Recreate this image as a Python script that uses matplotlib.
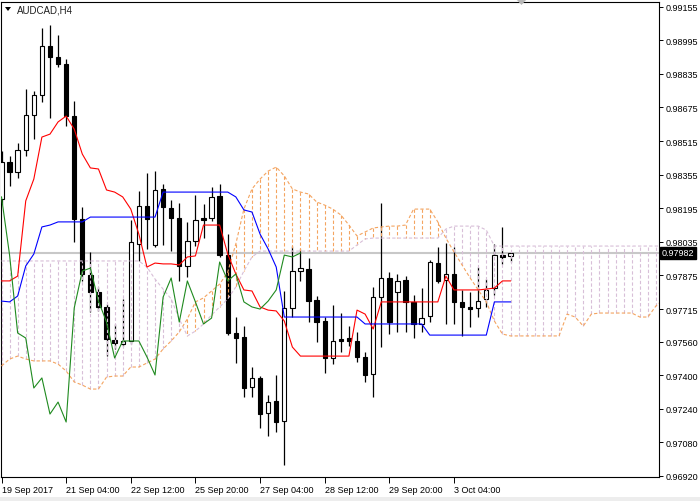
import matplotlib
matplotlib.use('Agg')
import matplotlib.pyplot as plt
from matplotlib.patches import Polygon, Rectangle
from matplotlib.transforms import blended_transform_factory

plt.rcParams['font.family'] = ['Liberation Sans', 'DejaVu Sans']

symbol_title = "AUDCAD,H4"
time_labels = ["19 Sep 2017", "21 Sep 04:00", "22 Sep 12:00", "25 Sep 20:00",
               "27 Sep 04:00", "28 Sep 12:00", "29 Sep 20:00", "3 Oct 04:00"]
time_label_bars = [0, 8, 16, 24, 32, 40, 48, 56]
price_ticks = [0.99155, 0.98995, 0.98835, 0.98675, 0.98515, 0.98355, 0.98195, 0.98035,
               0.97875, 0.97715, 0.97560, 0.97400, 0.97240, 0.97080, 0.96920]
current_price = 0.97982

open_ = [0.98239, 0.98415, 0.98368, 0.98472, 0.98639, 0.98734, 0.98968, 0.98915, 0.98882, 0.98634,
         0.98144, 0.97877, 0.97796, 0.97725, 0.97568, 0.97549, 0.97563, 0.98025, 0.98206, 0.98020,
         0.98287, 0.98196, 0.98149, 0.97920, 0.98039, 0.98149, 0.98149, 0.98253, 0.97972, 0.97601,
         0.97582, 0.97344, 0.97387, 0.97220, 0.97277, 0.97182, 0.97720, 0.97896, 0.97906, 0.97758,
         0.97658, 0.97482, 0.97572, 0.97577, 0.97563, 0.97487, 0.97406, 0.97772, 0.97863, 0.97796,
         0.97853, 0.97749, 0.97644, 0.97682, 0.97934, 0.97853, 0.97882, 0.97749, 0.97725, 0.97720,
         0.97763, 0.97815, 0.97972, 0.97968]
high = [0.98468, 0.98444, 0.98506, 0.98763, 0.98753, 0.99053, 0.99068, 0.99020, 0.98906, 0.98706,
        0.98201, 0.97987, 0.97820, 0.97739, 0.97644, 0.97763, 0.98139, 0.98277, 0.98363, 0.98372,
        0.98310, 0.98234, 0.98220, 0.98130, 0.98258, 0.98215, 0.98296, 0.98310, 0.98072, 0.97677,
        0.97634, 0.97439, 0.97396, 0.97306, 0.97401, 0.97801, 0.98015, 0.98001, 0.97958, 0.97777,
        0.97677, 0.97734, 0.97696, 0.97634, 0.97606, 0.97510, 0.97820, 0.98220, 0.97891, 0.97882,
        0.97872, 0.97782, 0.97815, 0.97949, 0.98010, 0.98030, 0.98010, 0.97806, 0.97796, 0.97915,
        0.97858, 0.98025, 0.98106, 0.97982]
low = [0.98215, 0.98301, 0.98339, 0.98444, 0.98525, 0.98701, 0.98625, 0.98868, 0.98587, 0.98034,
       0.97849, 0.97701, 0.97706, 0.97491, 0.97525, 0.97539, 0.97549, 0.97944, 0.98001, 0.98010,
       0.98020, 0.97991, 0.97849, 0.97868, 0.98015, 0.98053, 0.98134, 0.97963, 0.97591, 0.97458,
       0.97296, 0.97296, 0.97149, 0.97110, 0.97130, 0.96972, 0.97677, 0.97849, 0.97653, 0.97558,
       0.97410, 0.97453, 0.97510, 0.97539, 0.97463, 0.97368, 0.97296, 0.97534, 0.97596, 0.97606,
       0.97606, 0.97577, 0.97606, 0.97653, 0.97839, 0.97644, 0.97644, 0.97587, 0.97630, 0.97677,
       0.97725, 0.97782, 0.97930, 0.97939]
close = [0.98415, 0.98368, 0.98472, 0.98639, 0.98734, 0.98968, 0.98915, 0.98882, 0.98634, 0.98144,
         0.97882, 0.97796, 0.97725, 0.97572, 0.97553, 0.97563, 0.98034, 0.98206, 0.98144, 0.98282,
         0.98201, 0.98149, 0.97920, 0.98039, 0.98139, 0.98139, 0.98249, 0.97972, 0.97601, 0.97577,
         0.97339, 0.97387, 0.97215, 0.97272, 0.97177, 0.97720, 0.97896, 0.97910, 0.97753, 0.97653,
         0.97482, 0.97563, 0.97563, 0.97563, 0.97487, 0.97401, 0.97772, 0.97863, 0.97653, 0.97849,
         0.97749, 0.97644, 0.97672, 0.97939, 0.97849, 0.97882, 0.97749, 0.97725, 0.97715, 0.97753,
         0.97806, 0.97972, 0.97963, 0.97982]

tenkan = [0.97849, 0.97849, 0.97872, 0.98230, 0.98334, 0.98534, 0.98548, 0.98606, 0.98634, 0.98572,
          0.98453, 0.98387, 0.98382, 0.98282, 0.98272, 0.98249, 0.98191, 0.98072, 0.97915, 0.97934,
          0.97930, 0.97930, 0.97925, 0.97963, 0.97968, 0.98115, 0.98115, 0.98115, 0.97977, 0.97882,
          0.97806, 0.97801, 0.97725, 0.97710, 0.97706, 0.97658, 0.97534, 0.97491, 0.97491, 0.97491,
          0.97491, 0.97491, 0.97491, 0.97491, 0.97710, 0.97691, 0.97620, 0.97749, 0.97749, 0.97749,
          0.97749, 0.97749, 0.97749, 0.97749, 0.97749, 0.97872, 0.97806, 0.97806, 0.97806, 0.97806,
          0.97810, 0.97815, 0.97849, 0.97849]
kijun = [0.97753, 0.97749, 0.97777, 0.97920, 0.97977, 0.98106, 0.98115, 0.98130, 0.98130, 0.98130,
         0.98130, 0.98153, 0.98153, 0.98153, 0.98153, 0.98153, 0.98153, 0.98153, 0.98153, 0.98153,
         0.98272, 0.98272, 0.98272, 0.98272, 0.98272, 0.98272, 0.98272, 0.98272, 0.98272, 0.98249,
         0.98187, 0.98177, 0.98072, 0.98001, 0.97915, 0.97677, 0.97677, 0.97677, 0.97677, 0.97677,
         0.97677, 0.97677, 0.97677, 0.97677, 0.97677, 0.97644, 0.97644, 0.97644, 0.97644, 0.97644,
         0.97644, 0.97644, 0.97644, 0.97591, 0.97591, 0.97591, 0.97591, 0.97591, 0.97591, 0.97591,
         0.97591, 0.97749, 0.97749, 0.97749]
senkou_a = [0.97444, 0.97477, 0.97491, 0.97477, 0.97468, 0.97468, 0.97468, 0.97453, 0.97420, 0.97368,
            0.97353, 0.97334, 0.97334, 0.97391, 0.97396, 0.97396, 0.97439, 0.97439, 0.97458, 0.97477,
            0.97525, 0.97563, 0.97606, 0.97668, 0.97749, 0.97768, 0.97801, 0.97834, 0.97891, 0.98025,
            0.98191, 0.98287, 0.98334, 0.98372, 0.98391, 0.98349, 0.98287, 0.98272, 0.98263, 0.98225,
            0.98210, 0.98191, 0.98163, 0.98115, 0.98063, 0.98082, 0.98101, 0.98106, 0.98110, 0.98110,
            0.98115, 0.98191, 0.98191, 0.98191, 0.98130, 0.98053, 0.97987, 0.97925, 0.97863, 0.97806,
            0.97749, 0.97658, 0.97596, 0.97587, 0.97587, 0.97587, 0.97587, 0.97587, 0.97587, 0.97587,
            0.97691, 0.97677, 0.97634, 0.97691, 0.97696, 0.97696, 0.97696, 0.97696, 0.97696, 0.97677,
            0.97677, 0.97730, 0.97763]
senkou_b = [0.97944, 0.97944, 0.97944, 0.97944, 0.97944, 0.97944, 0.97944, 0.97944, 0.97944, 0.97944,
            0.97944, 0.97944, 0.97944, 0.97944, 0.97944, 0.97944, 0.97944, 0.97944, 0.97915, 0.97858,
            0.97810, 0.97763, 0.97668, 0.97587, 0.97610, 0.97644, 0.97687, 0.97725, 0.97763, 0.97820,
            0.97896, 0.97963, 0.97991, 0.97991, 0.97991, 0.97991, 0.97991, 0.97991, 0.97991, 0.97991,
            0.97991, 0.97991, 0.97991, 0.97991, 0.98020, 0.98049, 0.98053, 0.98053, 0.98053, 0.98053,
            0.98053, 0.98053, 0.98053, 0.98053, 0.98053, 0.98096, 0.98110, 0.98110, 0.98110, 0.98110,
            0.98091, 0.98015, 0.98015, 0.98015, 0.98015, 0.98015, 0.98015, 0.98015, 0.98015, 0.98015,
            0.98015, 0.98015, 0.98015, 0.98015, 0.98015, 0.98015, 0.98015, 0.98015, 0.98015, 0.98015,
            0.98015, 0.98015, 0.98015]
chikou_shift = 26

W, H = 700, 502
fig = plt.figure(figsize=(W / 100, H / 100), dpi=100)
fig.patch.set_facecolor('white')
ax = fig.add_axes([1 / W, (H - 478) / H, 658 / W, 475 / H])
ax.set_facecolor('white')

px_per_unit = 21000.0
ax.set_ylim(0.96920 - 1 / px_per_unit, 0.96920 + 474 / px_per_unit)
ax.set_xlim(-0.5 / 8.08, (659 - 1.5) / 8.08)

SANDY = '#F4A460'
THISTLE = '#D8BFD8'
dash = (0, (3, 2))

# current price line
ax.axhline(current_price, color='#C8C8C8', lw=1.5, zorder=1)

# candles
n = len(close)
xs = list(range(n))
ax.vlines(xs, low, high, color='black', lw=0.9, zorder=2)
for i in xs:
    o, c = open_[i], close[i]
    bottom = min(o, c)
    height = max(abs(c - o), 0.000005)
    face = 'white' if c >= o else 'black'
    ax.add_patch(Rectangle((i - 0.27, bottom), 0.54, height, facecolor=face,
                           edgecolor='black', lw=0.8, zorder=3))

# cloud hatching
for i in range(len(senkou_a)):
    a, b = senkou_a[i], senkou_b[i]
    col = SANDY if a >= b else THISTLE
    ax.plot([i, i], [a, b], color=col, ls=dash, lw=0.8, zorder=4)
xa = list(range(len(senkou_a)))
ax.plot(xa, senkou_a, color=SANDY, ls=dash, lw=0.8, zorder=4)
ax.plot(xa, senkou_b, color=THISTLE, ls=dash, lw=0.8, zorder=4)

# ichimoku lines
ax.plot(xs, tenkan, color='#FF0000', lw=0.8, zorder=5)
ax.plot(xs, kijun, color='#0000FF', lw=0.8, zorder=5)
chikou = close[chikou_shift:]
ax.plot(list(range(len(chikou))), chikou, color='#1F8A1F', lw=0.8, zorder=5)

# axes styling
for sp in ax.spines.values():
    sp.set_color('black')
    sp.set_linewidth(0.8)
ax.yaxis.tick_right()
ax.set_yticks(price_ticks)
ax.set_yticklabels([f"{v:.5f}" for v in price_ticks])
ax.tick_params(axis='y', direction='out', length=3, width=0.7, pad=2, labelsize=6.5, colors='black')
ax.set_xticks(time_label_bars)
ax.set_xticklabels(time_labels)
ax.tick_params(axis='x', direction='out', length=4, width=0.7, pad=1.5, labelsize=6.5, colors='black')
for lab in ax.get_xticklabels():
    lab.set_horizontalalignment('left')

# current price label
trans = blended_transform_factory(ax.transAxes, ax.transData)
ax.text(1.004, current_price, f"{current_price:.5f}", transform=trans, color='white',
        fontsize=6.5, va='center', ha='left', clip_on=False, zorder=10,
        bbox=dict(boxstyle='square,pad=0.18', fc='black', ec='black'))

# title
fig.text(17 / W, 1 - 10.5 / H, symbol_title, fontsize=7, color='#202020', va='center', ha='left')
fig.patches.append(Polygon([(5 / W, 1 - 8 / H), (11 / W, 1 - 8 / H), (8 / W, 1 - 12 / H)],
                           closed=True, transform=fig.transFigure, facecolor='black',
                           edgecolor='none'))
# chart shift marker
fig.patches.append(Polygon([(516 / W, 1 - 0 / H), (527 / W, 1 - 0 / H), (521.5 / W, 1 - 6 / H)],
                           closed=True, transform=fig.transFigure, facecolor='#B8B8B8',
                           edgecolor='none'))
# bottom strip
fig.patches.append(Rectangle((0, 0), 1, 4 / H, transform=fig.transFigure,
                             facecolor='#EDEDED', edgecolor='none'))

fig.savefig('out.png', dpi=100, facecolor='white')
